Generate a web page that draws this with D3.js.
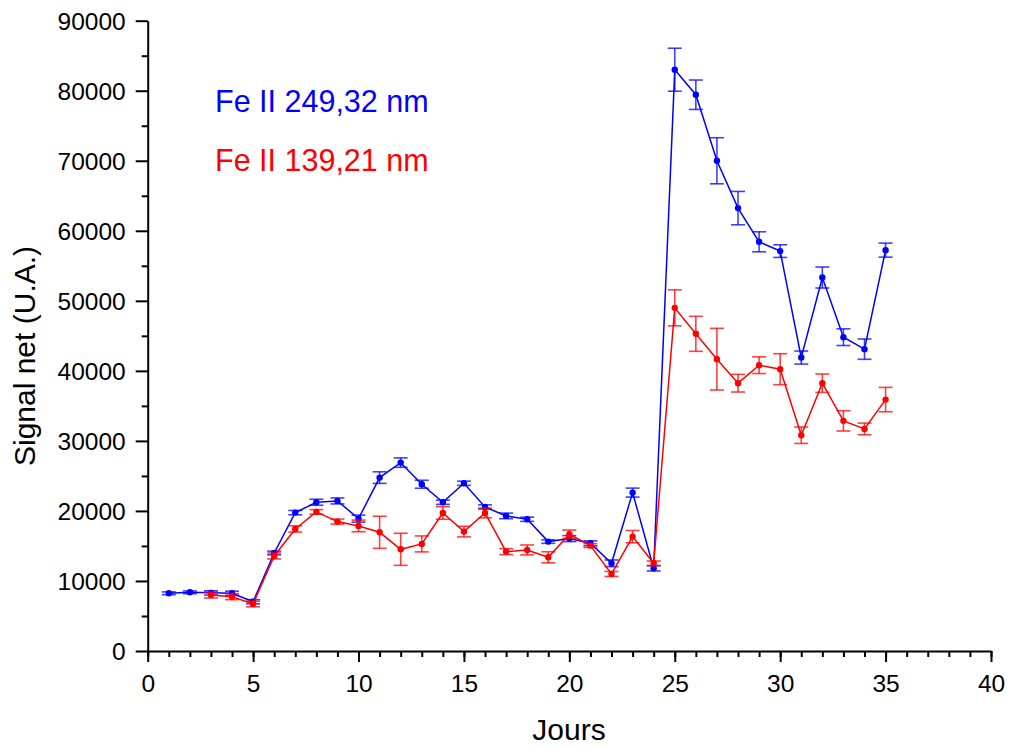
<!DOCTYPE html>
<html>
<head>
<meta charset="utf-8">
<script src="https://cdn.jsdelivr.net/npm/d3@7"></script>
<style>
  html, body { margin: 0; padding: 0; background: #fff; }
  svg { display: block; font-family: Arial, "Liberation Sans", sans-serif; }
</style>
</head>
<body>
<svg id="chart" width="1009" height="747"></svg>
<script>
// ---- Data ----
const blueDays = [1,2,3,4,5,6,7,8,9,10,11,12,13,14,15,16,17,18,19,20,21,22,23,24,25,26,27,28,29,30,31,32,33,34,35];
const blueValues = [8240,8380,8300,8240,7040,14000,19760,21240,21430,18900,24760,26900,23810,21240,23950,20570,19290,18810,15620,16050,15380,12520,22620,11810,83000,79430,70000,63240,58430,57100,41900,53330,44810,43100,57240];
const blueErrors = [200,200,300,300,300,260,310,430,430,500,830,670,570,300,300,300,400,300,250,430,350,480,640,380,3070,2100,3290,2380,1430,900,930,1500,1190,1450,1000];

const redDays = [3,4,5,6,7,8,9,10,11,12,13,14,15,16,17,18,19,20,21,22,23,24,25,26,27,28,29,30,31,32,33,34,35];
const redValues = [8000,7760,6710,13570,17430,19860,18480,17860,16950,14520,15290,19710,17050,19710,14190,14430,13380,16670,15050,11000,16330,12520,49000,45290,41670,38240,40810,40240,30810,38240,32860,31710,35900];
const redErrors = [430,430,400,430,450,330,360,830,2290,2290,1140,900,760,700,430,710,790,600,280,360,880,330,2570,2500,4400,1260,1190,2210,1170,1310,1450,830,1740];

const seriesNames = ["Fe II 249,32 nm", "Fe II 139,21 nm"];
const seriesColors = ["#0000ff", "#ff0000"];
const xTicks = [0,5,10,15,20,25,30,35,40];
const yTicks = [0,10000,20000,30000,40000,50000,60000,70000,80000,90000];
const xTitle = "Jours";
const yTitle = "Signal net (U.A.)";

// ---- Layout ----
const svg = d3.select("#chart");
const x = d3.scaleLinear().domain([0, 40]).range([147.7, 991]);
const y = d3.scaleLinear().domain([0, 90000]).range([651, 20.7]);

const series = [
  { name: seriesNames[0], color: seriesColors[0], pts: blueDays.map((d,i)=>({d, v: blueValues[i], e: blueErrors[i]})) },
  { name: seriesNames[1], color: seriesColors[1], pts: redDays.map((d,i)=>({d, v: redValues[i], e: redErrors[i]})) }
];

// ---- Axes ----
const axisG = svg.append("g");
// minor ticks
axisG.append("g").attr("transform", "translate(0,651)")
  .call(d3.axisBottom(x).tickValues(d3.range(0, 41, 1)).tickSize(6).tickFormat(""))
  .call(g => g.select(".domain").remove())
  .call(g => g.selectAll("line").attr("stroke", "#000").attr("stroke-width", 2));
axisG.append("g").attr("transform", "translate(147.7,0)")
  .call(d3.axisLeft(y).tickValues(d3.range(5000, 90000, 10000)).tickSize(6).tickFormat(""))
  .call(g => g.select(".domain").remove())
  .call(g => g.selectAll("line").attr("stroke", "#000").attr("stroke-width", 2));

// major
const xAx = axisG.append("g").attr("transform", "translate(0,651)")
  .call(d3.axisBottom(x).tickValues(xTicks).tickSize(11).tickSizeOuter(0).tickPadding(9).tickFormat(d3.format("d")));
const yAx = axisG.append("g").attr("transform", "translate(147.7,0)")
  .call(d3.axisLeft(y).tickValues(yTicks).tickSize(12).tickSizeOuter(0).tickPadding(10).tickFormat(d3.format("d")));
[xAx, yAx].forEach(g => {
  g.select(".domain").attr("stroke", "#000").attr("stroke-width", 2);
  g.selectAll(".tick line").attr("stroke", "#000").attr("stroke-width", 2);
  g.selectAll(".tick text").attr("fill", "#000").attr("font-size", 24.5)
    .attr("font-family", 'Arial, "Liberation Sans", sans-serif');
});
xAx.selectAll(".tick text").attr("dy", null).attr("y", null)
  .attr("transform", "translate(0,41)");
yAx.selectAll(".tick text").attr("dy", "0.36em");

// titles
svg.append("text").attr("x", 569).attr("y", 740).attr("text-anchor", "middle")
  .attr("font-size", 30).attr("fill", "#000").text(xTitle);
svg.append("text").attr("transform", "translate(35,356) rotate(-90)").attr("text-anchor", "middle")
  .attr("font-size", 30).attr("fill", "#000").text(yTitle);

// ---- Series ----
const line = d3.line().x(p => x(p.d)).y(p => y(p.v));
series.forEach(s => {
  const g = svg.append("g");
  g.append("path").datum(s.pts).attr("d", line).attr("fill", "none")
    .attr("stroke", s.color).attr("stroke-width", 1.5);
  const eb = g.append("g").attr("stroke", s.color).attr("stroke-opacity", 0.75).attr("stroke-width", 1.6);
  s.pts.forEach(p => {
    const cx = x(p.d), y1 = y(p.v + p.e), y2 = y(p.v - p.e);
    eb.append("line").attr("x1", cx).attr("x2", cx).attr("y1", y1).attr("y2", y2);
    eb.append("line").attr("x1", cx - 7).attr("x2", cx + 7).attr("y1", y1).attr("y2", y1);
    eb.append("line").attr("x1", cx - 7).attr("x2", cx + 7).attr("y1", y2).attr("y2", y2);
  });
  g.selectAll("circle").data(s.pts).join("circle")
    .attr("cx", p => x(p.d)).attr("cy", p => y(p.v)).attr("r", 3.2).attr("fill", s.color);
});

// ---- Legend ----
svg.append("text").attr("x", 215).attr("y", 112).attr("font-size", 30.5)
  .attr("fill", seriesColors[0]).text(seriesNames[0]);
svg.append("text").attr("x", 215).attr("y", 171).attr("font-size", 30.5)
  .attr("fill", seriesColors[1]).text(seriesNames[1]);
</script>
</body>
</html>
